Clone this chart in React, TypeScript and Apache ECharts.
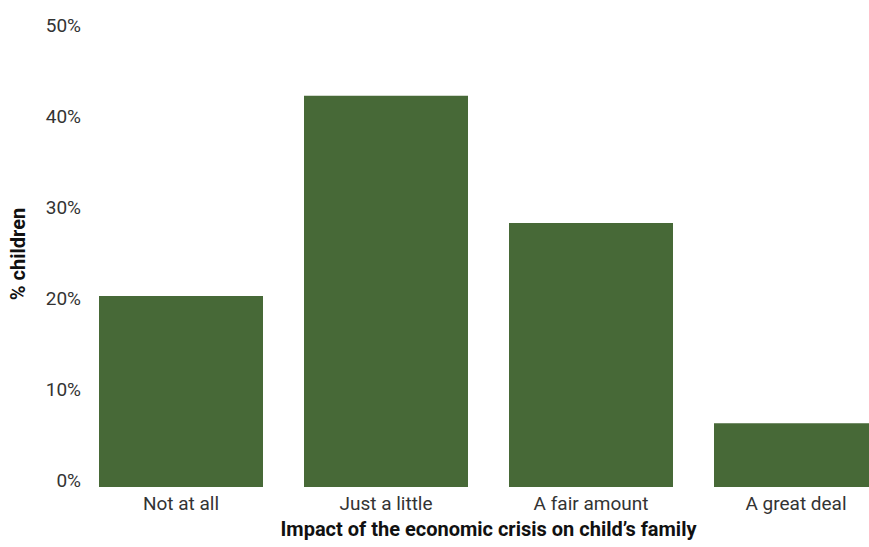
import React, { useEffect, useRef } from "react";
import * as echarts from "echarts";

const categories = ["Not at all", "Just a little", "A fair amount", "A great deal"];
const shares = [21, 43, 29, 7];
const yTicks = [0, 10, 20, 30, 40, 50];

const FONT = "Roboto, 'Noto Sans', sans-serif";

const App: React.FC = () => {
  const chartRef = useRef<HTMLDivElement>(null);

  useEffect(() => {
    if (!chartRef.current) return;
    const chart = echarts.init(chartRef.current, undefined, { renderer: "svg" });
    chart.setOption({
      animation: false,
      textStyle: { fontFamily: FONT },
      // the last bar runs past the right edge of the picture, so the canvas is wider than the window
      grid: { left: 78.5, right: 0.5, top: 32, bottom: 60 },
      xAxis: {
        type: "category",
        data: categories,
        name: "Impact of the economic crisis on child\u2019s family",
        nameLocation: "middle",
        nameGap: 32,
        nameTextStyle: { fontSize: 20, fontWeight: "bold", color: "#111", fontFamily: FONT },
        axisLine: { show: false },
        axisTick: { show: false },
        axisLabel: { fontSize: 19, color: "#333", margin: 7, fontFamily: FONT },
      },
      yAxis: {
        type: "value",
        min: yTicks[0],
        max: yTicks[yTicks.length - 1],
        interval: 10,
        splitLine: { show: false },
        axisLine: { show: false },
        axisTick: { show: false },
        axisLabel: {
          fontSize: 19,
          color: "#333",
          margin: -2.5,
          verticalAlign: "bottom",
          lineHeight: 13,
          fontFamily: FONT,
          formatter: (v: number) => `${v}%`,
        },
      },
      graphic: [
        {
          type: "text",
          x: 18,
          y: 254,
          rotation: Math.PI / 2,
          style: {
            text: "% children",
            fontSize: 20,
            fontWeight: "bold",
            fill: "#111",
            fontFamily: FONT,
            align: "center",
            verticalAlign: "middle",
          },
        },
      ],
      series: [
        {
          type: "bar",
          data: shares,
          barCategoryGap: "20%",
          itemStyle: { color: "#476937" },
        },
      ],
    });
    return () => chart.dispose();
  }, []);

  return (
    <div
      ref={chartRef}
      style={{ position: "fixed", left: 0, top: 0, width: "899px", height: "547px", background: "#fff" }}
    />
  );
};

export default App;
